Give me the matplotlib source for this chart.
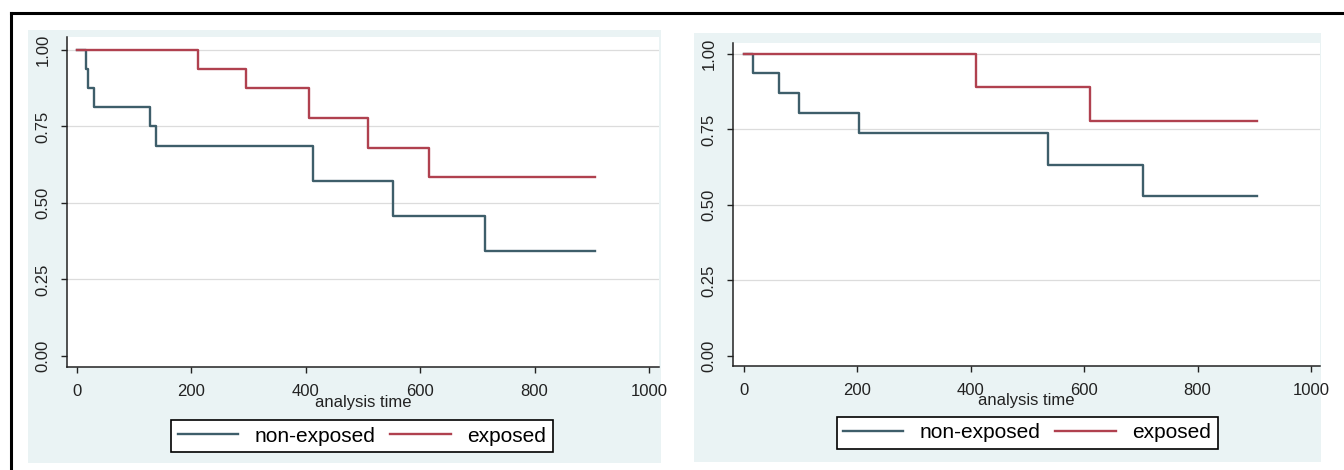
import matplotlib
matplotlib.use("Agg")
import matplotlib.pyplot as plt
from matplotlib.patches import Rectangle
from matplotlib.lines import Line2D

# ---- data (Kaplan-Meier step values) ----
left_nonexp_t = [0, 15, 20, 30, 128, 138, 412, 553, 713, 906]
left_nonexp_s = [1.0, 0.9375, 0.875, 0.8125, 0.75, 0.6875, 0.573, 0.458, 0.344, 0.344]
left_exp_t = [0, 212, 295, 406, 509, 616, 906]
left_exp_s = [1.0, 0.9375, 0.875, 0.779, 0.681, 0.584, 0.584]

right_nonexp_t = [0, 15, 61, 97, 203, 537, 703, 904]
right_nonexp_s = [1.0, 0.9375, 0.871, 0.804, 0.737, 0.633, 0.528, 0.528]
right_exp_t = [0, 409, 610, 904]
right_exp_s = [1.0, 0.889, 0.778, 0.778]

x_ticks = [0, 200, 400, 600, 800, 1000]
y_ticks = [0.0, 0.25, 0.5, 0.75, 1.0]
y_ticklabels = ["0.00", "0.25", "0.50", "0.75", "1.00"]
series_labels = ["non-exposed", "exposed"]
xlabel_text = "analysis time"

C_NON = "#3e5e6a"
C_EXP = "#b0414f"
BG = "#eaf3f4"

W, H = 1344, 470
fig = plt.figure(figsize=(W / 100, H / 100), dpi=100)
fig.patch.set_facecolor("white")

narrow = ["Liberation Sans Narrow", "DejaVu Sans Condensed", "Liberation Sans", "DejaVu Sans"]
regular = ["Liberation Sans", "DejaVu Sans"]


def fx(px):
    return px / W


def fy(py):
    return 1 - py / H


# outer light panels
for (x0, y0, x1, y1) in [(28, 30, 661, 463), (694, 33, 1321, 462)]:
    fig.add_artist(Rectangle((fx(x0), fy(y1)), fx(x1) - fx(x0), fy(y0) - fy(y1),
                             transform=fig.transFigure, facecolor=BG,
                             edgecolor="none", zorder=-10))

# black frame (left and top)
fig.add_artist(Line2D([fx(11), fx(11)], [fy(13), 0], transform=fig.transFigure,
                      color="black", lw=2.2, zorder=-5))
fig.add_artist(Line2D([fx(11), 1], [fy(13), fy(13)], transform=fig.transFigure,
                      color="black", lw=2.2, zorder=-5))


def make_panel(rect, xlim, ylim, nt, ns, et, es, leg_center):
    ax = fig.add_axes(rect)
    ax.set_facecolor("white")
    ax.set_xlim(*xlim)
    ax.set_ylim(*ylim)
    for y in [0.25, 0.5, 0.75, 1.0]:
        ax.axhline(y, color="#dcdcdc", lw=0.9, zorder=1)
    l1, = ax.step(nt, ns, where="post", color=C_NON, lw=1.7, zorder=3)
    l2, = ax.step(et, es, where="post", color=C_EXP, lw=1.7, zorder=3)
    for s in ["top", "right"]:
        ax.spines[s].set_visible(False)
    for s in ["left", "bottom"]:
        ax.spines[s].set_color("#222222")
        ax.spines[s].set_linewidth(1.1)
    ax.set_xticks(x_ticks)
    ax.set_xticklabels([str(v) for v in x_ticks], fontfamily=narrow, fontsize=12,
                       color="#222222")
    ax.set_yticks(y_ticks)
    ax.set_yticklabels(y_ticklabels, fontfamily=narrow, fontsize=12,
                       rotation=90, va="center", color="#222222")
    ax.tick_params(axis="both", direction="out", length=4, width=1, color="#222222")
    ax.tick_params(axis="x", pad=8)
    ax.tick_params(axis="y", pad=8)
    ax.set_xlabel(xlabel_text, fontfamily=narrow, fontsize=12, labelpad=-3,
                  color="#222222")
    leg = fig.legend([l1, l2], series_labels, loc="center",
                     bbox_to_anchor=(fx(leg_center[0]), fy(leg_center[1])),
                     bbox_transform=fig.transFigure, ncol=2, frameon=True,
                     fancybox=False, edgecolor="black", facecolor="white",
                     framealpha=1, prop={"family": regular, "size": 15},
                     handlelength=2.9, columnspacing=0.7, handletextpad=0.8,
                     borderpad=0.3, borderaxespad=0)
    leg.get_frame().set_linewidth(1.2)
    return ax


make_panel([fx(67), fy(367), fx(659) - fx(67), fy(37) - fy(367)],
           (-17.5, 1017.5), (-0.036, 1.042),
           left_nonexp_t, left_nonexp_s, left_exp_t, left_exp_s, (362, 436))
make_panel([fx(733), fy(366), fx(1320) - fx(733), fy(43) - fy(366)],
           (-19.4, 1015.9), (-0.033, 1.036),
           right_nonexp_t, right_nonexp_s, right_exp_t, right_exp_s, (1027, 433))

fig.savefig("out.png", dpi=100, facecolor="white")
